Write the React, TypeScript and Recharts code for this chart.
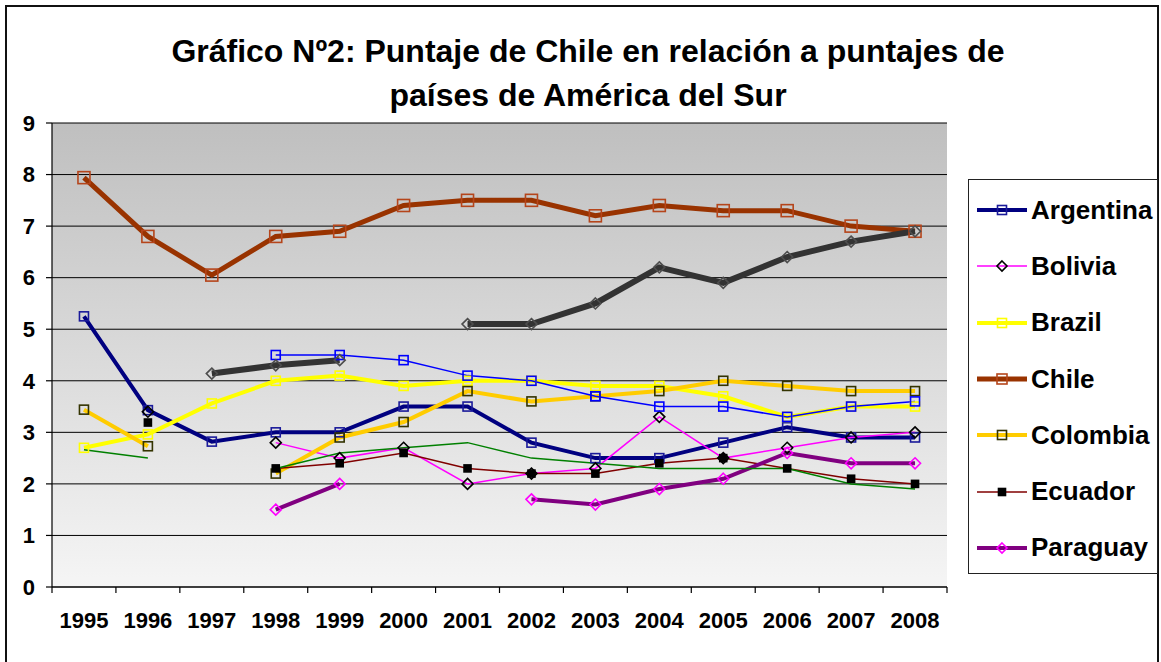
import React from "react";
import { LineChart, Line, XAxis, YAxis, CartesianGrid, Legend } from "recharts";

// values (null = no point that year)
const years = ["1995", "1996", "1997", "1998", "1999", "2000", "2001", "2002", "2003", "2004", "2005", "2006", "2007", "2008"];
const argentina = [5.25, 3.43, 2.82, 3.0, 3.0, 3.5, 3.5, 2.8, 2.5, 2.5, 2.8, 3.1, 2.9, 2.9];
const bolivia = [null, 3.4, null, 2.8, 2.5, 2.7, 2.0, 2.2, 2.3, 3.3, 2.5, 2.7, 2.9, 3.0];
const brazil = [2.7, 2.96, 3.56, 4.0, 4.1, 3.9, 4.0, 4.0, 3.9, 3.9, 3.7, 3.3, 3.5, 3.5];
const chile = [7.94, 6.8, 6.05, 6.8, 6.9, 7.4, 7.5, 7.5, 7.2, 7.4, 7.3, 7.3, 7.0, 6.9];
const colombia = [3.44, 2.73, null, 2.2, 2.9, 3.2, 3.8, 3.6, 3.7, 3.8, 4.0, 3.9, 3.8, 3.8];
const ecuador = [null, 3.19, null, 2.3, 2.4, 2.6, 2.3, 2.2, 2.2, 2.4, 2.5, 2.3, 2.1, 2.0];
const paraguay = [null, null, null, 1.5, 2.0, null, null, 1.7, 1.6, 1.9, 2.1, 2.6, 2.4, 2.4];
const peru = [null, null, null, 4.5, 4.5, 4.4, 4.1, 4.0, 3.7, 3.5, 3.5, 3.3, 3.5, 3.6];
const uruguay = [null, null, 4.14, 4.3, 4.4, null, 5.1, 5.1, 5.5, 6.2, 5.9, 6.4, 6.7, 6.9];
const venezuela = [2.66, 2.5, null, 2.3, 2.6, 2.7, 2.8, 2.5, 2.4, 2.3, 2.3, 2.3, 2.0, 1.9];
const yTicks = [0, 1, 2, 3, 4, 5, 6, 7, 8, 9];
// category boundaries for the x tick marks (Excel puts them between years)
const edgeTicks = [0, 1, 2, 3, 4, 5, 6, 7, 8, 9, 10, 11, 12, 13, 14];

type Shape = "square" | "diamond" | "none";

type Series = {
  key: string;
  name: string;
  values: (number | null)[];
  color: string;
  width: number;
  shape: Shape;
  size: number;
  markStroke: string;
  markFill: string;
  inLegend: boolean;
};

const series: Series[] = [
  { key: "argentina", name: "Argentina", values: argentina, color: "#000080", width: 4, shape: "square", size: 9, markStroke: "#1a1a9a", markFill: "none", inLegend: true },
  { key: "bolivia", name: "Bolivia", values: bolivia, color: "#ff00ff", width: 1.5, shape: "diamond", size: 11, markStroke: "#000", markFill: "none", inLegend: true },
  { key: "brazil", name: "Brazil", values: brazil, color: "#ffff00", width: 4, shape: "square", size: 9, markStroke: "#ffff00", markFill: "none", inLegend: true },
  { key: "chile", name: "Chile", values: chile, color: "#993300", width: 5, shape: "square", size: 12, markStroke: "#b5451b", markFill: "none", inLegend: true },
  { key: "colombia", name: "Colombia", values: colombia, color: "#ffcc00", width: 4, shape: "square", size: 9, markStroke: "#333300", markFill: "none", inLegend: true },
  { key: "ecuador", name: "Ecuador", values: ecuador, color: "#800000", width: 1.5, shape: "square", size: 7, markStroke: "#000", markFill: "#000", inLegend: true },
  { key: "paraguay", name: "Paraguay", values: paraguay, color: "#800080", width: 4, shape: "diamond", size: 11, markStroke: "#ff00ff", markFill: "none", inLegend: true },
  { key: "peru", name: "Perú", values: peru, color: "#0000ff", width: 1.5, shape: "square", size: 9, markStroke: "#0000ff", markFill: "none", inLegend: false },
  { key: "uruguay", name: "Uruguay", values: uruguay, color: "#333333", width: 6, shape: "diamond", size: 11, markStroke: "#4d4d4d", markFill: "none", inLegend: false },
  { key: "venezuela", name: "Venezuela", values: venezuela, color: "#008000", width: 1.5, shape: "none", size: 0, markStroke: "none", markFill: "none", inLegend: false },
];

const data = years.map((year, i) => {
  const row: Record<string, string | number | null> = { year };
  series.forEach((s) => {
    row[s.key] = s.values[i];
  });
  return row;
});

function Marker({ s, cx, cy }: { s: Series; cx: number; cy: number }) {
  const h = s.size / 2;
  if (s.shape === "square") {
    return <rect x={cx - h} y={cy - h} width={s.size} height={s.size} fill={s.markFill} stroke={s.markStroke} strokeWidth={1.6} />;
  }
  if (s.shape === "diamond") {
    return (
      <polygon
        points={`${cx},${cy - h} ${cx + h},${cy} ${cx},${cy + h} ${cx - h},${cy}`}
        fill={s.markFill}
        stroke={s.markStroke}
        strokeWidth={1.6}
      />
    );
  }
  return null;
}

const makeDot = (s: Series) => (props: any) => {
  const { cx, cy, value, index } = props;
  if (s.shape === "none" || value == null || cx == null || cy == null) {
    return <g key={`${s.key}-${index}`} />;
  }
  return (
    <g key={`${s.key}-${index}`}>
      <Marker s={s} cx={cx} cy={cy} />
    </g>
  );
};

const font = "'Liberation Sans', Arial, sans-serif";

function LegendBox() {
  const items = series.filter((s) => s.inLegend);
  return (
    <div
      style={{
        width: 190,
        height: 395,
        border: "1px solid #222",
        background: "#fff",
        boxSizing: "border-box",
        fontFamily: font,
        paddingTop: 2,
      }}
    >
      {items.map((s) => (
        <div key={s.key} style={{ display: "flex", alignItems: "center", height: 56.3 }}>
          <svg width={60} height={20} style={{ marginLeft: 6 }}>
            <line x1={2} y1={10} x2={52} y2={10} stroke={s.color} strokeWidth={s.width} />
            <Marker s={{ ...s, size: Math.min(s.size, 10) }} cx={27} cy={10} />
          </svg>
          <span style={{ fontSize: 26, fontWeight: 700, color: "#000", marginLeft: -4 }}>{s.name}</span>
        </div>
      ))}
    </div>
  );
}

const emptyTick = () => <g />;

export default function App() {
  return (
    <div style={{ position: "absolute", left: 0, top: 0, width: 1161, height: 662, background: "#fff", overflow: "hidden" }}>
      <div
        style={{
          position: "absolute",
          left: 5,
          top: 5,
          width: 1150,
          height: 700,
          border: "2px solid #111",
        }}
      />
      <div style={{ position: "absolute", left: 0, top: 0 }}>
        <LineChart
          width={1161}
          height={662}
          data={data}
          margin={{ top: 123, right: 214, bottom: 0, left: 0 }}
          style={{ fontFamily: font }}
        >
          <defs>
            <linearGradient id="plotBg" x1="0" y1="0" x2="0" y2="1">
              <stop offset="0%" stopColor="#bfbfbf" />
              <stop offset="100%" stopColor="#f5f5f5" />
            </linearGradient>
          </defs>
          <text x={588} y={62} textAnchor="middle" fontSize={32} fontWeight="bold" fill="#000" fontFamily={font}>
            Gráfico Nº2: Puntaje de Chile en relación a puntajes de
          </text>
          <text x={588} y={106} textAnchor="middle" fontSize={32} fontWeight="bold" fill="#000" fontFamily={font}>
            países de América del Sur
          </text>
          <CartesianGrid xAxisId={1} vertical={false} stroke="#000" strokeWidth={1} fill="url(#plotBg)" fillOpacity={1} />
          <XAxis
            xAxisId={0}
            type="number"
            dataKey="edge"
            domain={[0, 14]}
            ticks={edgeTicks}
            allowDataOverflow
            height={7}
            tickSize={6}
            tick={emptyTick}
            axisLine={{ stroke: "#000", strokeWidth: 1.2 }}
            tickLine={{ stroke: "#000", strokeWidth: 1.2 }}
          />
          <XAxis
            xAxisId={1}
            dataKey="year"
            scale="band"
            height={68}
            axisLine={false}
            tickLine={false}
            tickSize={0}
            tickMargin={18}
            interval={0}
            tick={{ fill: "#000", fontSize: 22, fontWeight: 700 }}
          />
          <YAxis
            domain={[0, 9]}
            ticks={yTicks}
            interval={0}
            width={52}
            tickSize={6}
            tickMargin={11}
            axisLine={{ stroke: "#000", strokeWidth: 1.2 }}
            tickLine={{ stroke: "#000", strokeWidth: 1.2 }}
            tick={{ fill: "#000", fontSize: 22, fontWeight: 700 }}
          />
          <YAxis
            yAxisId="right"
            orientation="right"
            domain={[0, 9]}
            width={0}
            tick={false}
            tickLine={false}
            axisLine={{ stroke: "#808080", strokeWidth: 2 }}
          />
          {series.map((s) => (
            <Line
              key={s.key}
              xAxisId={1}
              type="linear"
              dataKey={s.key}
              name={s.name}
              stroke={s.color}
              strokeWidth={s.width}
              dot={makeDot(s)}
              activeDot={false}
              connectNulls={false}
              isAnimationActive={false}
              legendType={s.inLegend ? "line" : "none"}
            />
          ))}
          <Legend
            layout="vertical"
            align="center"
            verticalAlign="middle"
            wrapperStyle={{ position: "absolute", left: 968, top: 179, width: 190 }}
            content={() => <LegendBox />}
          />
        </LineChart>
      </div>
    </div>
  );
}
